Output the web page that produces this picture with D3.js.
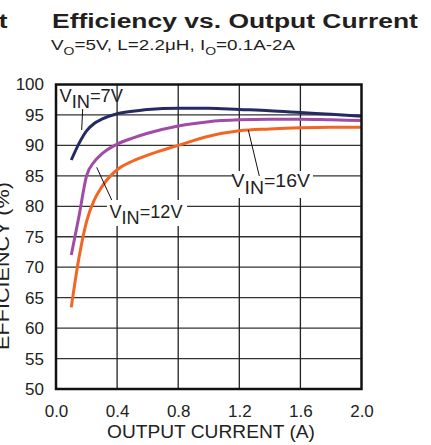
<!DOCTYPE html>
<html>
<head>
<meta charset="utf-8">
<script src="https://cdn.jsdelivr.net/npm/d3@7"></script>
<style>
  body { margin: 0; background: #fff; }
  svg { display: block; font-family: "Liberation Sans", Arial, sans-serif; }
</style>
</head>
<body>
<svg id="chart" width="431" height="445"></svg>
<script>
// data
var current = [0.1, 0.15, 0.2, 0.25, 0.3, 0.4, 0.5, 0.6, 0.8, 1.0, 1.2, 1.4, 1.6, 1.8, 2.0];
var eff7V  = [87.6, 90.3, 92.4, 93.6, 94.3, 95.2, 95.6, 95.9, 96.1, 96.1, 95.9, 95.7, 95.4, 95.1, 94.8];
var eff12V = [72.0, 78.3, 85.0, 87.3, 88.6, 90.2, 91.2, 92.0, 93.2, 93.9, 94.2, 94.3, 94.3, 94.2, 94.1];
var eff16V = [63.4, 71.5, 77.5, 81.0, 83.2, 86.0, 87.4, 88.4, 90.0, 91.5, 92.4, 92.7, 92.9, 93.0, 93.0];
var xTicks = [0, 0.4, 0.8, 1.2, 1.6, 2.0];
var yTicks = [50, 55, 60, 65, 70, 75, 80, 85, 90, 95, 100];

var series = [
  { name: "7V",  values: eff7V,  color: "#262a63" },
  { name: "12V", values: eff12V, color: "#a04ca6" },
  { name: "16V", values: eff16V, color: "#f26522" }
];

var svg = d3.select("#chart");
// plot box (names avoid window.top)
var pLeft = 56, pRight = 361.5, pTop = 84.5, pBottom = 389;

var x = d3.scaleLinear().domain([0, 2]).range([pLeft, pRight]);
var y = d3.scaleLinear().domain([50, 100]).range([pBottom, pTop]);

// stretch a text group horizontally so it spans w pixels
function fit(g, w) {
  var bb = g.select("text").node().getBBox();
  var k = w / bb.width;
  g.attr("transform", g.attr("transform") + " scale(" + k + ",1)");
}

// grid
svg.append("g").selectAll("line").data(yTicks.slice(1, -1)).join("line")
  .attr("x1", pLeft).attr("x2", pRight)
  .attr("y1", function (d) { return y(d); }).attr("y2", function (d) { return y(d); })
  .attr("stroke", "#333").attr("stroke-width", 1.3);
svg.append("g").selectAll("line").data(xTicks.slice(1, -1)).join("line")
  .attr("y1", pTop).attr("y2", pBottom)
  .attr("x1", function (d) { return x(d); }).attr("x2", function (d) { return x(d); })
  .attr("stroke", "#222").attr("stroke-width", 1.3);

// label boxes that break the grid
svg.append("rect").attr("x", 107).attr("y", 200).attr("width", 80).attr("height", 26).attr("fill", "#fff");
svg.append("rect").attr("x", 233).attr("y", 171).attr("width", 80).attr("height", 27).attr("fill", "#fff");

// curves
var line = d3.line()
  .x(function (d, i) { return x(current[i]); })
  .y(function (d) { return y(d); })
  .curve(d3.curveMonotoneX);

svg.append("g").selectAll("path").data(series).join("path")
  .attr("d", function (s) { return line(s.values); })
  .attr("fill", "none")
  .attr("stroke", function (s) { return s.color; })
  .attr("stroke-width", 3);

// frame
svg.append("rect").attr("x", pLeft).attr("y", pTop)
  .attr("width", pRight - pLeft).attr("height", pBottom - pTop)
  .attr("fill", "none").attr("stroke", "#111").attr("stroke-width", 2.5);

// axes
var yAxis = svg.append("g").attr("transform", "translate(" + pLeft + ",0)")
  .call(d3.axisLeft(y).tickValues(yTicks).tickSize(0).tickPadding(12).tickFormat(d3.format("d")));
var xAxis = svg.append("g").attr("transform", "translate(0," + pBottom + ")")
  .call(d3.axisBottom(x).tickValues(xTicks).tickSize(0).tickPadding(16).tickFormat(d3.format(".1f")));
[yAxis, xAxis].forEach(function (a) {
  a.select(".domain").remove();
  a.selectAll("text").attr("font-size", 17).attr("fill", "#222").attr("font-family", null);
});

// leader lines
var leaders = [[82.7, 109, 81.7, 130], [96.7, 167.3, 111.7, 200], [248.3, 130, 259.3, 176]];
svg.append("g").selectAll("line").data(leaders).join("line")
  .attr("x1", function (d) { return d[0]; }).attr("y1", function (d) { return d[1]; })
  .attr("x2", function (d) { return d[2]; }).attr("y2", function (d) { return d[3]; })
  .attr("stroke", "#111").attr("stroke-width", 1);

// VIN labels
function vin(px, py, v, w) {
  var g = svg.append("g").attr("transform", "translate(" + px + "," + py + ")");
  var t = g.append("text").attr("font-size", 18).attr("fill", "#222");
  t.append("tspan").text("V");
  t.append("tspan").attr("dy", 6.5).text("IN");
  t.append("tspan").attr("dy", -6.5).text("=" + v);
  fit(g, w);
}
vin(59.5, 101.7, "7V", 63.5);
vin(109.5, 217.7, "12V", 73);
vin(231.5, 187, "16V", 78.5);

// titles
var tg = svg.append("g").attr("transform", "translate(52,28)");
tg.append("text").attr("font-size", 21).attr("font-weight", "bold").attr("fill", "#231f20")
  .text("Efficiency vs. Output Current");
fit(tg, 366);

svg.append("text").attr("x", -1).attr("y", 28).attr("font-size", 21).attr("font-weight", "bold")
  .attr("fill", "#231f20").attr("transform", "scale(1.25,1)").text("t");

var sg = svg.append("g").attr("transform", "translate(51,50)");
var st = sg.append("text").attr("font-size", 15.5).attr("fill", "#231f20");
st.append("tspan").text("V");
st.append("tspan").attr("dy", 5).attr("font-size", 11.5).text("O");
st.append("tspan").attr("dy", -5).text("=5V, L=2.2\u03bcH, I");
st.append("tspan").attr("dy", 5).attr("font-size", 11.5).text("O");
st.append("tspan").attr("dy", -5).text("=0.1A-2A");
fit(sg, 245);

var xl = svg.append("g").attr("transform", "translate(211,438)");
xl.append("text").attr("font-size", 18.5).attr("fill", "#222").attr("text-anchor", "middle")
  .text("OUTPUT CURRENT (A)");
fit(xl, 208);

var yl = svg.append("g").attr("transform", "translate(8.5,266) rotate(-90)");
yl.append("text").attr("font-size", 18).attr("fill", "#222").attr("text-anchor", "middle")
  .text("EFFICIENCY (%)");
fit(yl, 168);
</script>
</body>
</html>
